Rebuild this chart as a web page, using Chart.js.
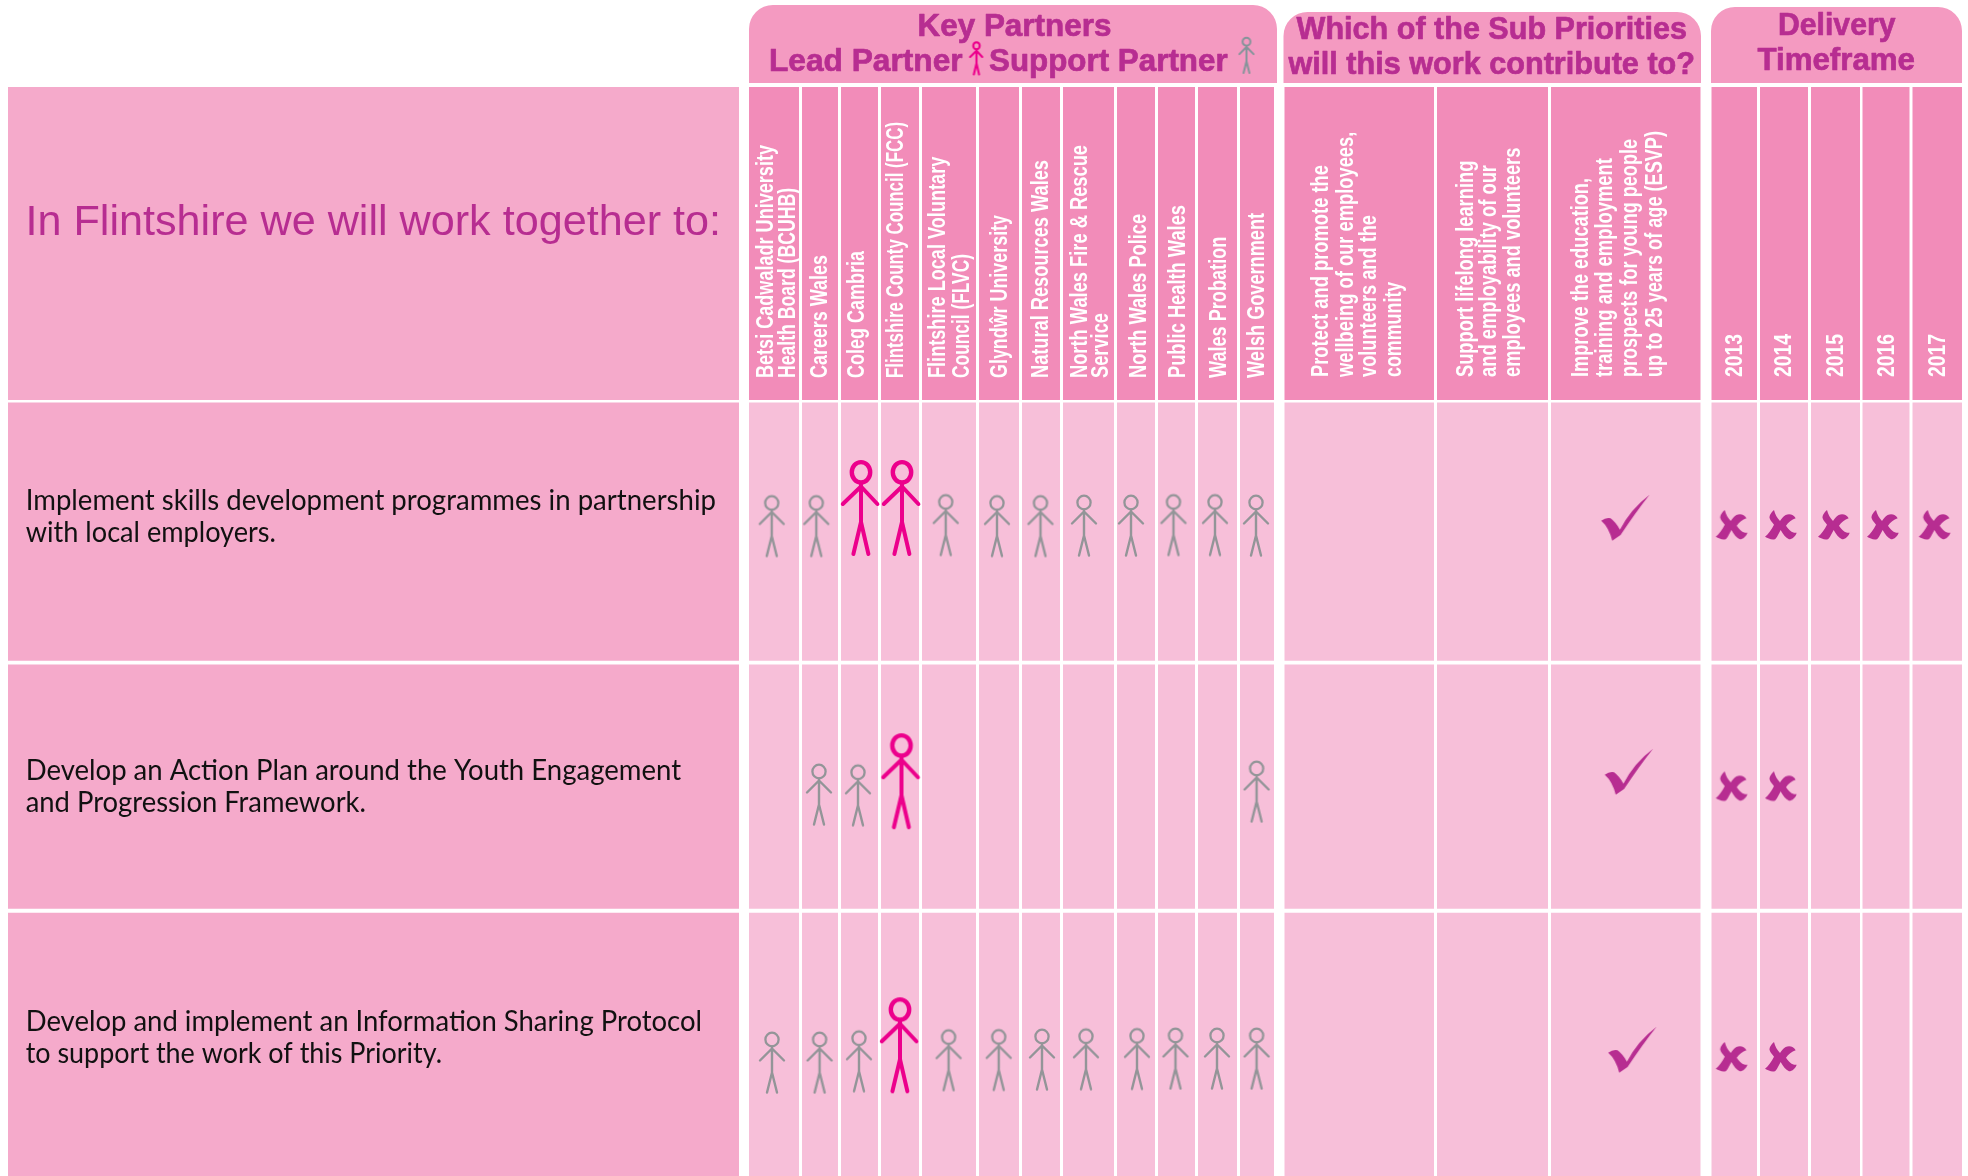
<!DOCTYPE html>
<html><head><meta charset="utf-8">
<style>html,body{margin:0;padding:0;background:#fff}canvas{display:block}</style>
<script src="https://cdn.jsdelivr.net/npm/chart.js@4"></script>
</head><body><canvas id="c" width="1968" height="1176" style="width:1968px;height:1176px"></canvas>
<script>
/* ---------- DATA ---------- */
const tableTitle = "In Flintshire we will work together to:";
const actions = [
  ["Implement skills development programmes in partnership", "with local employers."],
  ["Develop an Action Plan around the Youth Engagement", "and Progression Framework."],
  ["Develop and implement an Information Sharing Protocol", "to support the work of this Priority."]
];
const partners = [
  ["Betsi Cadwaladr University", "Health Board (BCUHB)"], ["Careers Wales"], ["Coleg Cambria"],
  ["Flintshire County Council (FCC)"], ["Flintshire Local Voluntary", "Council (FLVC)"],
  ["Glyndŵr University"], ["Natural Resources Wales"], ["North Wales Fire & Rescue", "Service"],
  ["North Wales Police"], ["Public Health Wales"], ["Wales Probation"], ["Welsh Government"]
];
const subPriorities = [
  ["Protect and promote the", "wellbeing of our employees,", "volunteers and the", "community"],
  ["Support lifelong learning", "and employability of our", "employees and volunteers"],
  ["Improve the education,", "training and employment", "prospects for young people", "up to 25 years of age (ESVP)"]
];
const years = ["2013", "2014", "2015", "2016", "2017"];
/* 0 = not involved, 1 = support partner, 2 = lead partner */
const partnerRoles = [
  [1,1,2,2,1,1,1,1,1,1,1,1],
  [0,1,1,2,0,0,0,0,0,0,0,1],
  [1,1,1,2,1,1,1,1,1,1,1,1]
];
const priorityTicks = [[0,0,1],[0,0,1],[0,0,1]];
const deliveryCrosses = [[1,1,1,1,1],[1,1,0,0,0],[1,1,0,0,0]];
const headings = {keyPartners:"Key Partners", lead:"Lead Partner", support:"Support Partner",
  subA:"Which of the Sub Priorities", subB:"will this work contribute to?", timeA:"Delivery", timeB:"Timeframe"};

/* ---------- LAYOUT (axis units = reference pixels) ---------- */
const partnerCols = [[749,799],[802,838],[841,878],[881,919],[922,976],[979,1019],[1022,1060],[1063,1114],[1117,1155],[1158,1195],[1198,1237],[1240,1274]];
const priorityCols = [[1284.5,1434],[1437,1548],[1551,1700.5]];
const yearCols = [[1711.5,1757],[1760,1808],[1811,1860],[1862.5,1909.5],[1912.5,1962]];
const rowBands = [[87,400],[402.5,660.7],[664.4,908.8],[912.8,1176]];
const leftPanel = [8,739];
const sectionCaps = [[749,1277,5,83],[1283.5,1701,12,83],[1711,1962,7,83]];
const supportY = [525, 794, 1060];
const leadY = [507, 780.2, 1044.3];
const nudgeX = [[-2.3,-3.7,1.5,2,-3.3,-2,-.5,-4.5,-5,-3,-2.5,-1],[0,-1,-1.5,1.5,0,0,0,0,0,0,0,-.4],[-2,-.4,-.5,0,-.4,-.3,1,-2.5,1,-1,-.5,-.4]];
const nudgeY = [[.5,.5,0,0,-.5,.5,.5,0,0,-.5,-.5,0],[0,0,.8,0,0,0,0,0,0,0,0,-3],[2,2,.7,0,-.4,-.6,-1,-1.3,-1.6,-2,-2,-2]];
const tickSpot = [[-.5,517],[3,771],[6.5,1049]];
const crossNudge = [-2.5,-3,-1.5,-3,-2.5];
const crossY = [525, 786.4, 1057];
const legendSpots = {lead:[976.5,58], support:[1246.5,55]};

const partnerBaselines = [[773.4,794.7],[827.2],[863.8],[903.4],[945.4,968.6],[1007.4],[1047.7],[1087,1107.5],[1146.4],[1185.2],[1225.6],[1263.6]];
const partnerTops = [[145,188],[255],[251],[122],[156.7,254],[215],[160],[145,313],[214],[205],[236.7],[213]];
const priorityBaselines = [[1328,1353,1375.5,1400.5],[1472.5,1496.2,1520.1],[1588,1611.8,1636.7,1661.6]];
const priorityTops = [[165,131.7,215,281.7],[160.7,165,147.7],[178,158,139,131]];
const yearBaselines = [1742.3,1790.6,1842.7,1894,1944.5];
const yearTop = 334, labelBottom = 378, priorityBottom = 377;
const actionBaselines = [[510,542],[780,812],[1030.6,1063]];
const actionRights = [[716,276],[681,366],[702,442]];

const colours = {panel:"#F5AACB", cap:"#F49AC1", head:"#F28CB9", cell:"#F7BFD9", text:"#B72D91", lead:"#EC008C", support:"#939598", legendSupport:"#85949A"};

/* ---------- POINT GLYPHS ---------- */
function canvasOf(w,h,draw){const c=document.createElement("canvas");c.width=w;c.height=h;draw(c.getContext("2d"));return c;}
function person(color,k,g,w,h){
  return canvasOf(w,h,x=>{
    x.translate(w/2,(h-g.foot*k)/2);x.scale(k,k);
    x.strokeStyle=color;x.lineCap="round";x.lineJoin="round";
    x.lineWidth=g.ring;x.beginPath();x.ellipse(0,g.headY,g.rx,g.ry,0,0,Math.PI*2);x.stroke();
    x.lineWidth=g.limb;x.beginPath();
    x.moveTo(g.armL,g.armY);x.lineTo(0,g.neck);x.lineTo(g.armR,g.armY);
    x.moveTo(0,g.neck-2);x.lineTo(0,g.hip);
    x.moveTo(g.footL,g.foot);x.lineTo(0,g.hip);x.lineTo(g.footR,g.foot);x.stroke();
  });
}
const supportShape={headY:8,rx:6.6,ry:6.8,ring:2.3,limb:2.4,neck:17,armL:-12,armR:12,armY:29,hip:41,footL:-5,footR:5,foot:61};
const leadShape={headY:12.3,rx:9.2,ry:10.2,ring:4.4,limb:4,neck:26.5,armL:-18.2,armR:16.4,armY:44,hip:62,footL:-7.6,footR:7.4,foot:94};
const supportGlyph=person(colours.support,1,supportShape,32,72);
const leadGlyph=person(colours.lead,1,leadShape,44,104);
const leadLegend=person(colours.lead,33/94,{...leadShape,ring:6,limb:6},20,40);
const supportLegend=person(colours.legendSupport,36/61,{...supportShape,ring:3.4,limb:3.4},20,42);
const tickGlyph=canvasOf(50,48,x=>{
  x.scale(1/3,1/3);x.translate(3,3);x.fillStyle=colours.text;x.beginPath();
  x.moveTo(0,80);x.quadraticCurveTo(14,70,28,73);x.quadraticCurveTo(44,85,56,107);
  x.quadraticCurveTo(88,45,145,2);x.quadraticCurveTo(103,55,58,123);x.lineTo(33,140);x.quadraticCurveTo(23,100,0,80);
  x.closePath();x.fill();
});
const crossGlyph=canvasOf(34,32,x=>{
  x.scale(1/3,1/3);x.translate(3,3);x.fillStyle=colours.text;x.beginPath();
  x.moveTo(27,0);x.bezierCurveTo(18,8,12,18,14,25);x.bezierCurveTo(16,32,22,38,27,44);
  x.bezierCurveTo(20,58,10,72,0,80);x.bezierCurveTo(10,84,20,92,31,87);x.bezierCurveTo(38,80,42,68,47,60);
  x.bezierCurveTo(54,72,62,84,72,88);x.bezierCurveTo(82,88,92,78,95,68);x.bezierCurveTo(82,70,72,60,63,47);
  x.bezierCurveTo(70,36,80,30,92,25);x.bezierCurveTo(86,14,74,10,62,15);x.bezierCurveTo(54,20,50,26,45,33);
  x.bezierCurveTo(36,24,30,12,27,0);x.closePath();x.fill();
});

/* ---------- DATASETS ---------- */
const mid=a=>(a[0]+a[1])/2;
function bar(edges,bands,fills,radius){
  return {type:"bar",order:2,grouped:false,barPercentage:1e6,categoryPercentage:1,maxBarThickness:edges[1]-edges[0],
    borderWidth:0,borderSkipped:false,inflateAmount:0,borderRadius:radius||0,
    backgroundColor:fills,data:bands.map(b=>({x:mid(edges),y:b}))};
}
const columnFills=[colours.head,colours.cell,colours.cell,colours.cell];
const datasets=[];
datasets.push(bar(leftPanel,rowBands,colours.panel));
sectionCaps.forEach(s=>datasets.push(bar([s[0],s[1]],[[s[2],s[3]]],colours.cap,{topLeft:24,topRight:24,bottomLeft:0,bottomRight:0})));
[...partnerCols,...priorityCols,...yearCols].forEach(c=>datasets.push(bar(c,rowBands,columnFills)));
function marks(glyph,data){return {type:"scatter",order:1,showLine:false,pointStyle:glyph,pointRadius:10,pointHoverRadius:10,data};}
const pick=role=>partnerRoles.flatMap((r,i)=>r.flatMap((v,j)=>v===role?[{x:mid(partnerCols[j])+nudgeX[i][j],y:(role===2?leadY:supportY)[i]+nudgeY[i][j]}]:[]));
datasets.push(marks(supportGlyph,pick(1)));
datasets.push(marks(leadGlyph,pick(2)));
datasets.push(marks(tickGlyph,priorityTicks.flatMap((r,i)=>r.flatMap((v,j)=>v?[{x:mid(priorityCols[j])+tickSpot[i][0],y:tickSpot[i][1]}]:[]))));
datasets.push(marks(crossGlyph,deliveryCrosses.flatMap((r,i)=>r.flatMap((v,j)=>v?[{x:mid(yearCols[j])+crossNudge[j],y:crossY[i]}]:[]))));
datasets.push(marks(leadLegend,[{x:legendSpots.lead[0],y:legendSpots.lead[1]}]));
datasets.push(marks(supportLegend,[{x:legendSpots.support[0],y:legendSpots.support[1]}]));

/* ---------- TEXT ---------- */
function fit(ctx,text,x,base,size,len,font,color,rotated,weight){
  ctx.save();ctx.font=font.replace("$",size);ctx.fillStyle=color;ctx.textAlign="left";ctx.textBaseline="alphabetic";
  const k=len/ctx.measureText(text).width;
  ctx.translate(x,base);if(rotated)ctx.rotate(-Math.PI/2);ctx.scale(k,1);
  if(weight){ctx.strokeStyle=color;ctx.lineWidth=weight;ctx.lineJoin="round";ctx.strokeText(text,0,0);}
  ctx.fillText(text,0,0);ctx.restore();
}
const bold='bold $px "Liberation Sans"', regular='$px "Liberation Sans"', body='$px Lato';
const textPlugin={id:"tableText",afterDatasetsDraw(chart){
  const ctx=chart.ctx,X=chart.scales.x,Y=chart.scales.y,px=v=>X.getPixelForValue(v),py=v=>Y.getPixelForValue(v);
  fit(ctx,tableTitle,px(25.5),py(235),42,695.5,regular,colours.text);
  actions.forEach((lines,i)=>lines.forEach((t,j)=>fit(ctx,t,px(25.7),py(actionBaselines[i][j]),28,actionRights[i][j]-25.7,body,"#111")));
  const h=(t,a,b,base)=>fit(ctx,t,px(a),py(base),32,b-a,bold,colours.text,false,0.7);
  h(headings.keyPartners,917.5,1111.4,35.5);h(headings.lead,769,962.6,70.5);h(headings.support,989,1227.6,70.5);
  h(headings.subA,1296.6,1687,38.8);h(headings.subB,1288.5,1695,73.5);h(headings.timeA,1778,1895.5,34.8);h(headings.timeB,1757.4,1915,69.5);
  partners.forEach((lines,i)=>lines.forEach((t,j)=>fit(ctx,t,px(partnerBaselines[i][j]),py(labelBottom),23,labelBottom-partnerTops[i][j],bold,"#FFF",true)));
  subPriorities.forEach((lines,i)=>lines.forEach((t,j)=>fit(ctx,t,px(priorityBaselines[i][j]),py(priorityBottom),23,priorityBottom-priorityTops[i][j],bold,"#FFF",true)));
  years.forEach((t,i)=>fit(ctx,t,px(yearBaselines[i]),py(labelBottom-1),23,labelBottom-1-yearTop,bold,"#FFF",true));
}};

new Chart(document.getElementById("c"),{
  type:"bar",
  data:{datasets},
  plugins:[textPlugin],
  options:{responsive:false,animation:false,devicePixelRatio:1,events:[],
    layout:{padding:0,autoPadding:false},
    plugins:{legend:{display:false},tooltip:{enabled:false},title:{display:false}},
    scales:{
      x:{type:"linear",min:0,max:1968,offset:false,display:false,grid:{display:false}},
      y:{type:"linear",min:0,max:1176,reverse:true,display:false,grid:{display:false}}
    }}
});
</script></body></html>
